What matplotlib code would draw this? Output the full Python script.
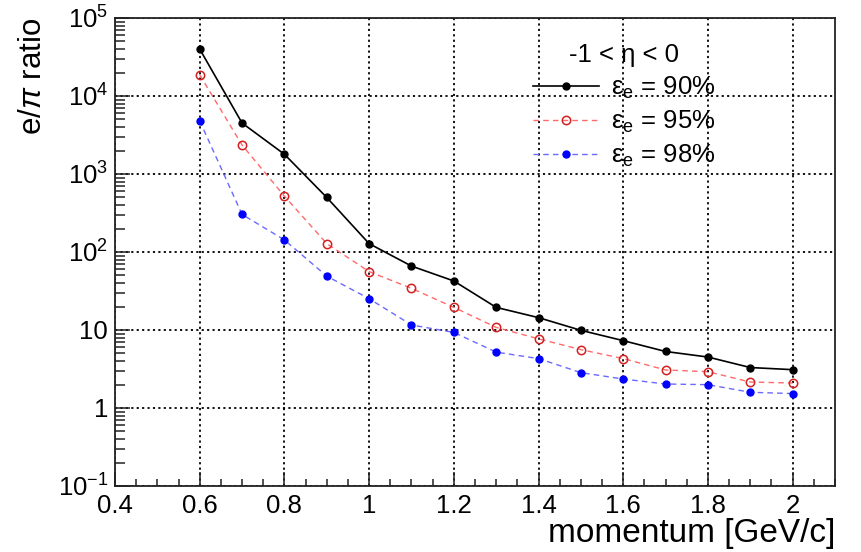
import matplotlib
matplotlib.use('Agg')
import matplotlib.pyplot as plt
import matplotlib.ticker as tkr

# e/pi rejection vs momentum, -1 < eta < 0
momentum = [0.6, 0.7, 0.8, 0.9, 1.0, 1.1, 1.2, 1.3, 1.4, 1.5, 1.6, 1.7, 1.8, 1.9, 2.0]
ratio_90 = [40000, 4500, 1790, 500, 128, 66, 42.5, 19.5, 14.4, 9.9, 7.3, 5.3, 4.5, 3.3, 3.1]
ratio_95 = [18700, 2350, 520, 128, 56, 34.2, 19.5, 10.8, 7.7, 5.6, 4.3, 3.07, 2.92, 2.15, 2.09]
ratio_98 = [4800, 303, 143, 49, 25.2, 11.6, 9.3, 5.2, 4.3, 2.84, 2.35, 2.03, 1.99, 1.59, 1.53]

names_list = [r'ε$_{\rm e}$ = 90%', r'ε$_{\rm e}$ = 95%', r'ε$_{\rm e}$ = 98%']
yticks = [0.1, 1, 10, 100, 1e3, 1e4, 1e5]
ytick_labels = [r'$10^{-1}$', '1', '10', r'$10^{2}$', r'$10^{3}$', r'$10^{4}$', r'$10^{5}$']


def main():
    plt.rcParams['font.family'] = ['Liberation Sans', 'DejaVu Sans']
    plt.rcParams['mathtext.fontset'] = 'custom'
    plt.rcParams['mathtext.rm'] = 'Liberation Sans'
    plt.rcParams['mathtext.it'] = 'Liberation Sans:italic'
    plt.rcParams['mathtext.bf'] = 'Liberation Sans:bold'

    fig = plt.figure(figsize=(8.62, 5.52), dpi=100)
    ax = fig.add_axes([0.1334, 0.1196, 0.8353, 0.8478])

    ax.plot(momentum, ratio_90, color='black', lw=1.2, marker='o', ms=5,
            mfc='black', mec='black', label=names_list[0])
    ax.plot(momentum, ratio_95, color='#ff6a6a', lw=1.0, ls=(0, (4, 3)), marker='o', ms=6,
            mfc='none', mec='#d42020', mew=1.1, label=names_list[1])
    ax.plot(momentum, ratio_98, color='#6a6aff', lw=1.0, ls=(0, (4, 3)), marker='o', ms=5,
            mfc='blue', mec='blue', label=names_list[2])

    ax.set_yscale('log')
    ax.set_xlim(0.4, 2.1)
    ax.set_ylim(0.1, 1e5)
    ax.xaxis.set_major_locator(tkr.MultipleLocator(0.2))
    ax.xaxis.set_minor_locator(tkr.MultipleLocator(0.05))
    ax.xaxis.set_major_formatter(tkr.FuncFormatter(lambda x, _: '%g' % round(x, 2)))
    ax.set_yticks(yticks)
    ax.set_yticklabels(ytick_labels)
    ax.yaxis.set_minor_locator(tkr.LogLocator(base=10, subs=range(2, 10), numticks=20))
    ax.yaxis.set_minor_formatter(tkr.NullFormatter())

    ax.tick_params(which='both', direction='in', top=False, right=False, colors='#222222',
                   labelcolor='black', labelsize=18.5)
    ax.tick_params(axis='x', which='major', length=10, width=1.1, pad=6)
    ax.tick_params(axis='x', which='minor', length=5, width=1.1)
    ax.tick_params(axis='y', which='major', length=11, width=1.1, pad=5)
    ax.tick_params(axis='y', which='minor', length=7, width=1.1)
    for s in ax.spines.values():
        s.set_linewidth(1.3)
        s.set_color('#222222')

    ax.grid(True, which='major', color='black', lw=1.3, ls=(0, (1.2, 1.8)))

    ax.set_xlabel('momentum [GeV/c]', fontsize=24, loc='right', labelpad=0)
    ax.set_ylabel(r'e/$\pi$ ratio', fontsize=22.5, loc='top', labelpad=7)

    ax.legend(title='-1 < η < 0', loc='upper left', bbox_to_anchor=(0.58, 0.946),
              frameon=False, fontsize=18.5, title_fontsize=18.5, handlelength=2.6,
              handletextpad=0.45, labelspacing=0.3, borderpad=0, borderaxespad=0)

    plt.savefig('out.png', dpi=100)


if __name__ == '__main__':
    main()
